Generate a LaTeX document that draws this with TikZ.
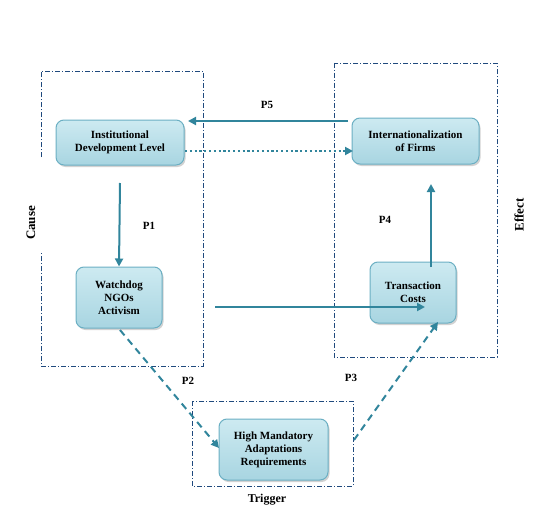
\documentclass[tikz,border=0pt]{standalone}
\usepackage{fontspec}
\setmainfont{Liberation Serif}
\usepackage{tikz}
\usetikzlibrary{arrows.meta,positioning,shadows,calc}

\definecolor{linkteal}{HTML}{31859C}
\definecolor{framenavy}{HTML}{1F497D}
\definecolor{boxtop}{HTML}{CDEAF1}
\definecolor{boxbot}{HTML}{A8D5E1}
\definecolor{boxrim}{HTML}{6BAFC3}

\tikzset{
  factor/.style={draw=boxrim, line width=1pt, rounded corners=8pt,
    top color=boxtop, bottom color=boxbot, align=center,
    font=\bfseries\fontsize{11}{13}\selectfont, inner sep=2pt,
    drop shadow={shadow xshift=1.5pt, shadow yshift=-2pt, fill=black!35}},
  frame/.style={draw=framenavy, line width=0.6pt, dash pattern=on 5pt off 2pt on 1pt off 2pt},
  link/.style={draw=linkteal, line width=2pt, -{Triangle[length=8pt,width=8pt]}},
  plabel/.style={font=\bfseries\fontsize{11}{12}\selectfont},
  side/.style={font=\bfseries\fontsize{13}{15}\selectfont, rotate=90}
}

\begin{document}
\begin{tikzpicture}[x=1pt,y=-1pt]
\useasboundingbox (0,0) rectangle (549,511);

% frames
\draw[frame] (41,157) -- (41,71) -- (203,71) -- (203,366) -- (41,366) -- (41,252);
\draw[frame] (334,63) rectangle (497,357);
\draw[frame] (192,401) rectangle (353,486);
\node[side] (cause) at (31,223) {Cause};
\node[side] (effect) at (519,215) {Effect};
\node[plabel, font=\bfseries\fontsize{12}{14}\selectfont] (trigger) at (267,500) {Trigger};

% factors
\node[factor, minimum width=128pt, minimum height=45pt] (inst) at (120,142.5) {Institutional\\Development Level};
\node[factor, minimum width=86pt, minimum height=61pt] (ngo) at (119,297.5) {Watchdog\\NGOs\\Activism};
\node[factor, minimum width=127pt, minimum height=46pt] (intl) at (415.5,141) {Internationalization\\of Firms};
\node[factor, minimum width=86pt, minimum height=61pt] (cost) at (413,292.5) {Transaction\\Costs};
\node[factor, minimum width=109pt, minimum height=61pt] (req) at (273.5,449.5) {High Mandatory\\Adaptations\\Requirements};

% free ends
\coordinate (p1start) at (120,183);
\coordinate (p4end) at (431,184);
\coordinate (p4start) at (431,267);
\coordinate (p5start) at (348,121);
\coordinate (p5end) at (188,121);
\coordinate (dotstart) at (185,151);
\coordinate (dotend) at (353,151);
\coordinate (midstart) at (215,307);
\coordinate (midend) at (425,307);
\coordinate (p2start) at (120,330);
\coordinate (p2end) at (219,448);
\coordinate (p3start) at (354,440);
\coordinate (p3end) at (438,322);

% links
\draw[link] (p1start) -- (ngo.north);
\draw[link] (p4start) -- (p4end);
\draw[link] (p5start) -- (p5end);
\draw[link, line width=2.2pt, dash pattern=on 2.2pt off 2.6pt] (dotstart) -- (dotend);
\draw[link] (midstart) -- (midend);
\draw[link, dash pattern=on 7pt off 5pt] (p2start) -- (p2end);
\draw[link, dash pattern=on 7pt off 5pt] (p3start) -- (p3end);

\node[plabel] (p1) at (149,226) {P1};
\node[plabel] (p2) at (188,381) {P2};
\node[plabel] (p3) at (351,378) {P3};
\node[plabel] (p4) at (385,220) {P4};
\node[plabel] (p5) at (267,105) {P5};
\end{tikzpicture}
\end{document}
